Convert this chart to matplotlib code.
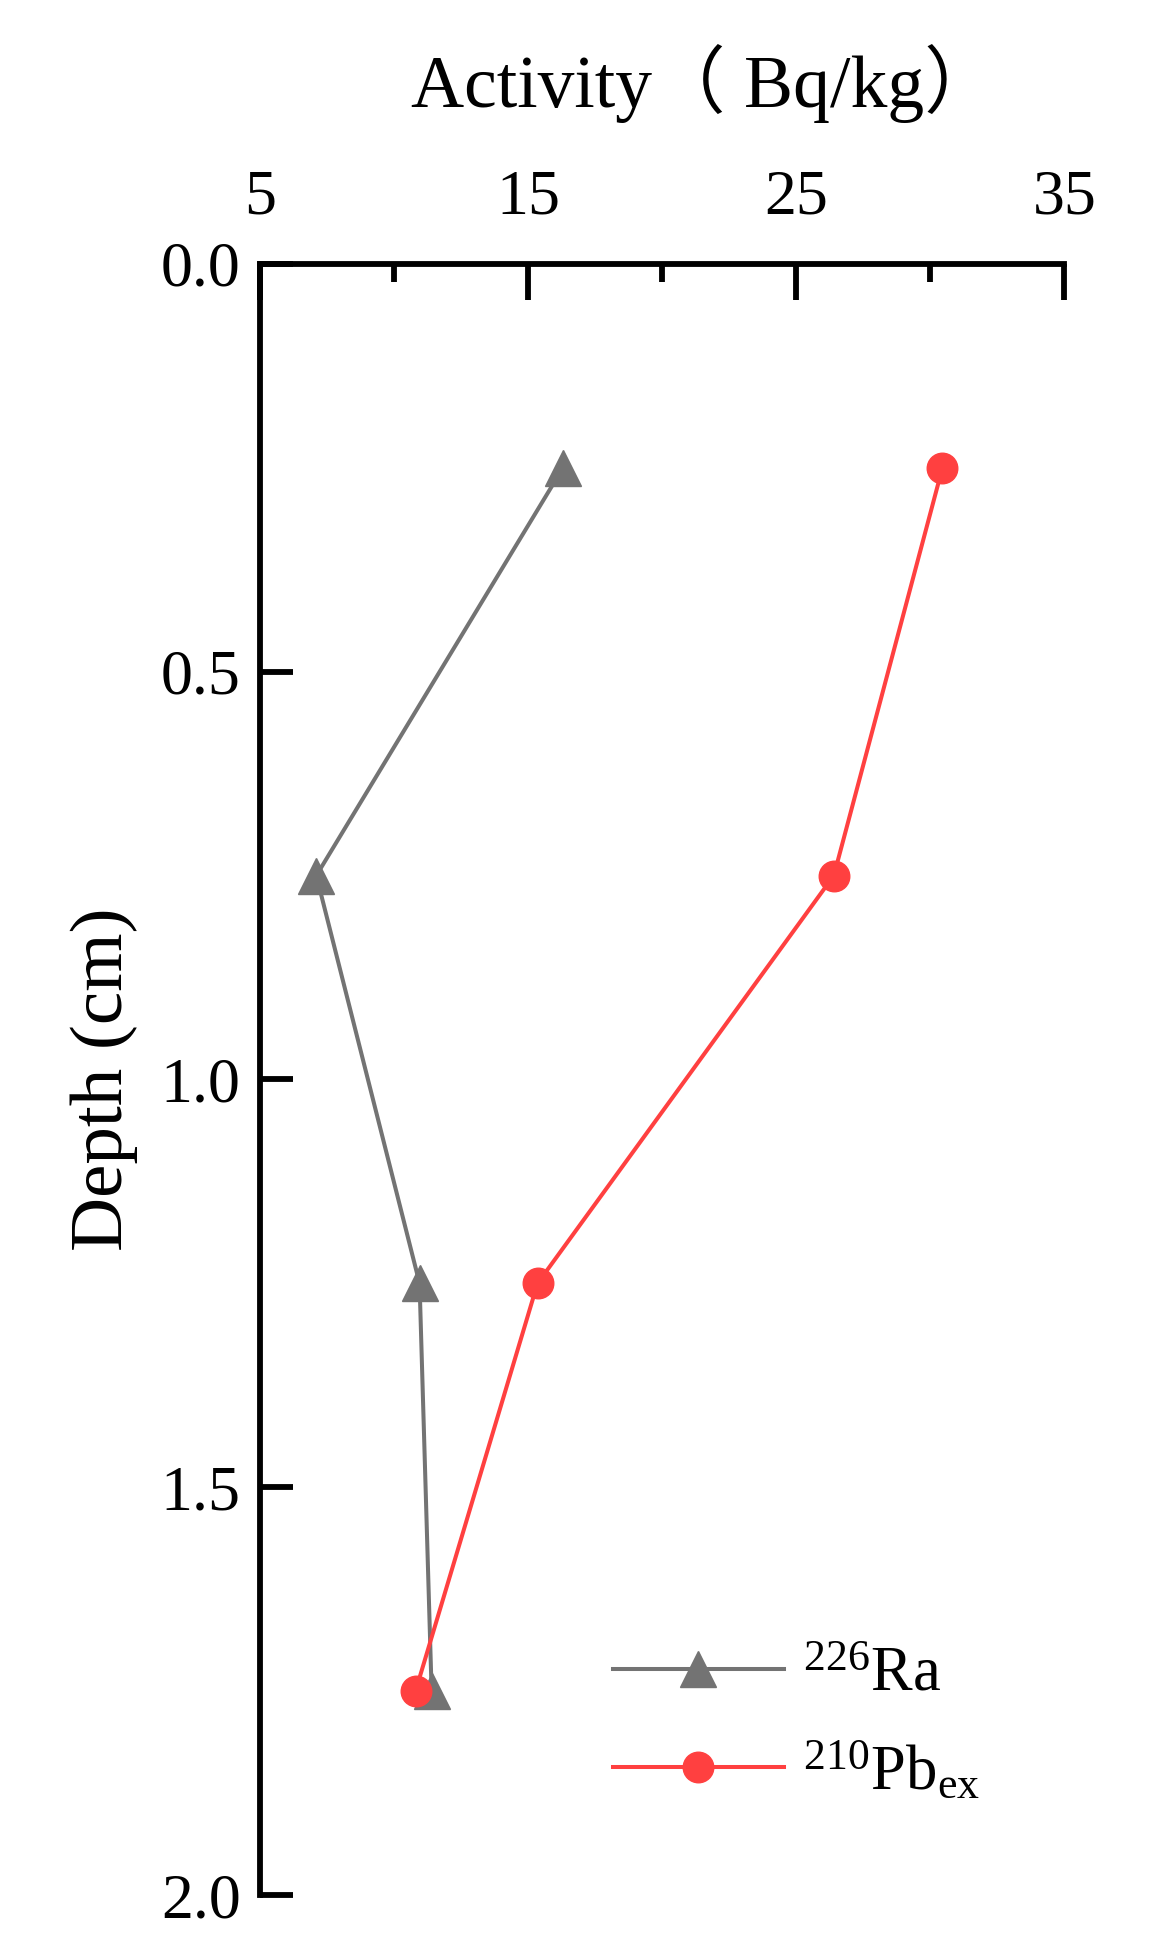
import numpy as np
import matplotlib.pyplot as plt
from matplotlib.ticker import MultipleLocator, FixedLocator

plt.rcParams['font.family'] = ['Liberation Serif', 'Noto Sans CJK SC']
plt.rcParams['mathtext.fontset'] = 'custom'
plt.rcParams['mathtext.rm'] = 'Liberation Serif'
plt.rcParams['mathtext.it'] = 'Liberation Serif'

depth = [0.25, 0.75, 1.25, 1.75]
ra226 = [16.3, 7.1, 10.95, 11.4]
pb210ex = [30.45, 26.4, 15.35, 10.8]
x_major = [5, 15, 25, 35]
x_minor = [10, 20, 30]

fig = plt.figure(figsize=(11.52, 19.52), dpi=100)
ax = fig.add_axes([0.2257, 0.0292, 0.6983, 0.8356])

ax.plot(ra226, depth, color='#737373', lw=2.9, marker='^', ms=26, label=r'$^{226}$Ra')
ax.plot(pb210ex, depth, color='#FF4040', lw=2.9, marker='o', ms=22, label=r'$^{210}$Pb$_{\mathrm{ex}}$')

ax.set_xlim(5, 35)
ax.set_ylim(2.0, 0.0)
ax.xaxis.set_major_locator(FixedLocator(x_major))
ax.xaxis.set_minor_locator(FixedLocator(x_minor))
ax.yaxis.set_major_locator(MultipleLocator(0.5))
ax.yaxis.set_major_formatter(plt.FormatStrFormatter('%.1f'))

ax.xaxis.tick_top()
ax.xaxis.set_label_position('top')
for s in ['right', 'bottom']:
    ax.spines[s].set_visible(False)
for s in ['top', 'left']:
    ax.spines[s].set_linewidth(4.2)

ax.tick_params(axis='x', which='major', direction='in', length=26, width=4.2, labelsize=46, pad=26)
ax.tick_params(axis='x', which='minor', direction='in', length=13, width=4.2)
ax.tick_params(axis='y', which='major', direction='in', length=24, width=4.2, labelsize=46, pad=14)

ax.set_xlabel('Activity（ Bq/kg）', fontsize=53)
ax.xaxis.set_label_coords(0.552, 1.096)
ax.set_ylabel('Depth (cm)', fontsize=54, labelpad=16)

ax.legend(loc='lower right', bbox_to_anchor=(0.965, 0.022), frameon=False, fontsize=45,
          handlelength=2.75, handletextpad=0.3, labelspacing=0.58)

fig.savefig('out.png', dpi=100)
